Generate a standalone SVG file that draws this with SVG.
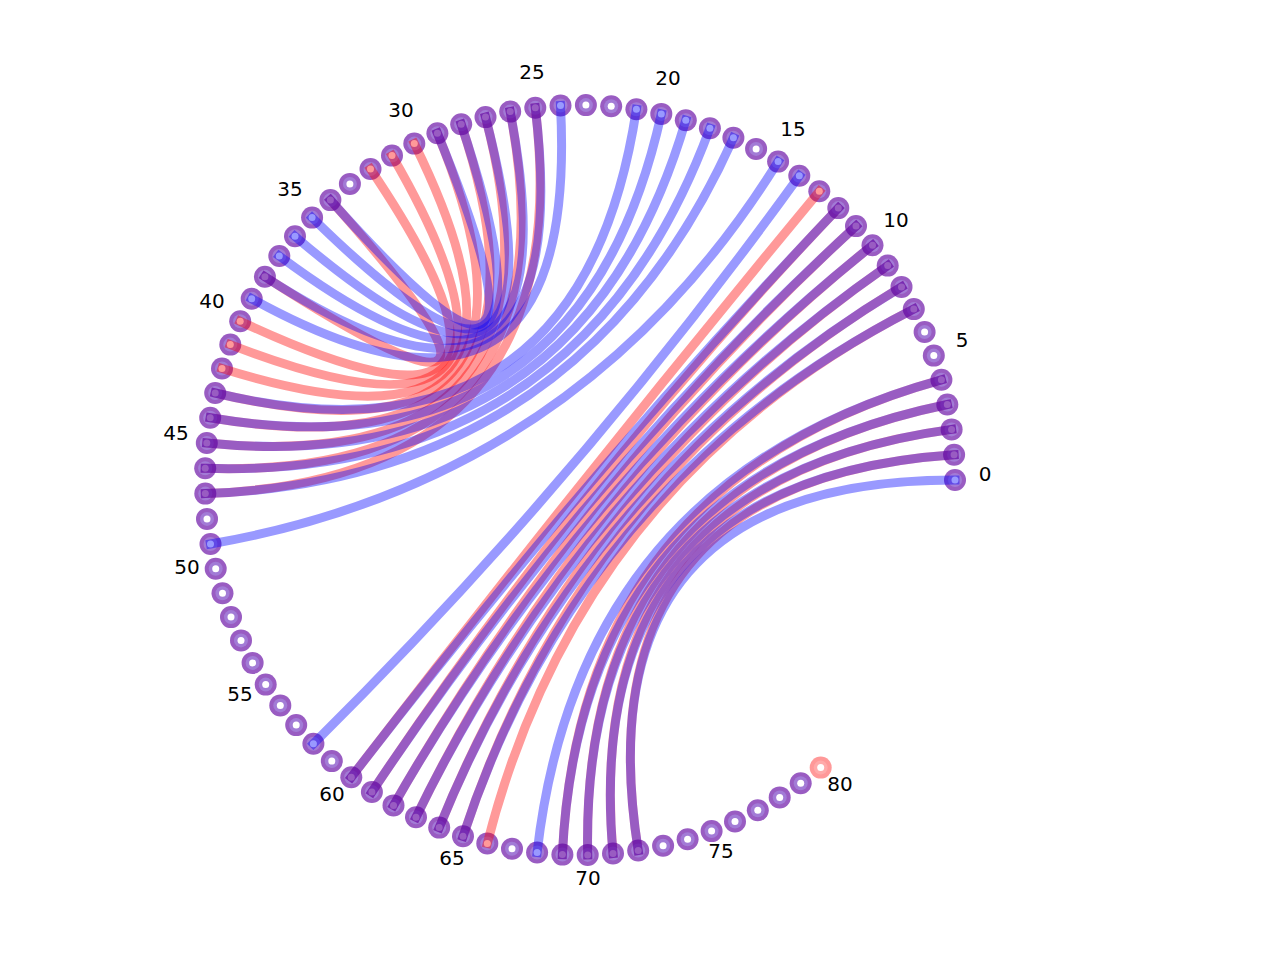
<svg xmlns="http://www.w3.org/2000/svg" width="1280" height="960" viewBox="0 0 1280 960">
<style>
.r{fill:none;stroke:#ff0000;stroke-opacity:.4;stroke-width:9;stroke-linecap:square}
.b{fill:none;stroke:#0000ff;stroke-opacity:.4;stroke-width:9;stroke-linecap:square}
.o{fill:#995cc2}
.i{fill:#a27bd6}
.w{fill:#ffffff}
.po{fill:#ff9999}
.pi{fill:#ffaaaa}
text{font-family:"DejaVu Sans",sans-serif;font-size:20px;text-anchor:middle;fill:#000}
</style>
<defs>
<g id="nd"><circle class="o" r="11"/><circle class="i" r="7"/><circle class="w" r="3.5"/></g>
<g id="ndp"><circle class="po" r="11"/><circle class="pi" r="7"/><circle class="w" r="3.5"/></g>
</defs>
<rect width="1280" height="960" fill="#fff"/>
<g id="nodes">
<g id="n0" transform="translate(955,480)"><use href="#nd"/></g>
<g id="n1" transform="translate(954.1,454.7)"><use href="#nd"/></g>
<g id="n2" transform="translate(951.6,429.4)"><use href="#nd"/></g>
<g id="n3" transform="translate(947.3,404.5)"><use href="#nd"/></g>
<g id="n4" transform="translate(941.4,379.8)"><use href="#nd"/></g>
<g id="n5" transform="translate(933.8,355.6)"><use href="#nd"/></g>
<g id="n6" transform="translate(924.6,332.0)"><use href="#nd"/></g>
<g id="n7" transform="translate(913.8,309.1)"><use href="#nd"/></g>
<g id="n8" transform="translate(901.5,286.9)"><use href="#nd"/></g>
<g id="n9" transform="translate(887.7,265.6)"><use href="#nd"/></g>
<g id="n10" transform="translate(872.5,245.3)"><use href="#nd"/></g>
<g id="n11" transform="translate(856.0,226.1)"><use href="#nd"/></g>
<g id="n12" transform="translate(838.3,208.1)"><use href="#nd"/></g>
<g id="n13" transform="translate(819.3,191.3)"><use href="#nd"/></g>
<g id="n14" transform="translate(799.3,175.8)"><use href="#nd"/></g>
<g id="n15" transform="translate(778.1,161.6)"><use href="#nd"/></g>
<g id="n16" transform="translate(756.1,148.9)"><use href="#nd"/></g>
<g id="n17" transform="translate(733.4,137.8)"><use href="#nd"/></g>
<g id="n18" transform="translate(709.9,128.2)"><use href="#nd"/></g>
<g id="n19" transform="translate(685.8,120.2)"><use href="#nd"/></g>
<g id="n20" transform="translate(661.3,113.9)"><use href="#nd"/></g>
<g id="n21" transform="translate(636.4,109.3)"><use href="#nd"/></g>
<g id="n22" transform="translate(611.2,106.3)"><use href="#nd"/></g>
<g id="n23" transform="translate(585.9,105.1)"><use href="#nd"/></g>
<g id="n24" transform="translate(560.5,105.5)"><use href="#nd"/></g>
<g id="n25" transform="translate(535.3,107.7)"><use href="#nd"/></g>
<g id="n26" transform="translate(510.2,111.6)"><use href="#nd"/></g>
<g id="n27" transform="translate(485.5,117.1)"><use href="#nd"/></g>
<g id="n28" transform="translate(461.2,124.3)"><use href="#nd"/></g>
<g id="n29" transform="translate(437.4,133.2)"><use href="#nd"/></g>
<g id="n30" transform="translate(414.3,143.6)"><use href="#nd"/></g>
<g id="n31" transform="translate(392.0,155.6)"><use href="#nd"/></g>
<g id="n32" transform="translate(370.5,169.0)"><use href="#nd"/></g>
<g id="n33" transform="translate(349.9,183.9)"><use href="#nd"/></g>
<g id="n34" transform="translate(330.4,200.1)"><use href="#nd"/></g>
<g id="n35" transform="translate(312.1,217.6)"><use href="#nd"/></g>
<g id="n36" transform="translate(295.0,236.3)"><use href="#nd"/></g>
<g id="n37" transform="translate(279.3,256.0)"><use href="#nd"/></g>
<g id="n38" transform="translate(264.9,276.7)"><use href="#nd"/></g>
<g id="n39" transform="translate(251.7,298.7)"><use href="#nd"/></g>
<g id="n40" transform="translate(240.2,321.3)"><use href="#nd"/></g>
<g id="n41" transform="translate(230.3,344.6)"><use href="#nd"/></g>
<g id="n42" transform="translate(222.0,368.5)"><use href="#nd"/></g>
<g id="n43" transform="translate(215.2,393.0)"><use href="#nd"/></g>
<g id="n44" transform="translate(210.2,417.8)"><use href="#nd"/></g>
<g id="n45" transform="translate(206.8,443.0)"><use href="#nd"/></g>
<g id="n46" transform="translate(205.2,468.3)"><use href="#nd"/></g>
<g id="n47" transform="translate(205.3,493.6)"><use href="#nd"/></g>
<g id="n48" transform="translate(207.0,518.9)"><use href="#nd"/></g>
<g id="n49" transform="translate(210.5,544.0)"><use href="#nd"/></g>
<g id="n50" transform="translate(215.7,568.8)"><use href="#nd"/></g>
<g id="n51" transform="translate(222.5,593.2)"><use href="#nd"/></g>
<g id="n52" transform="translate(231.0,617.1)"><use href="#nd"/></g>
<g id="n53" transform="translate(241.0,640.4)"><use href="#nd"/></g>
<g id="n54" transform="translate(252.6,662.9)"><use href="#nd"/></g>
<g id="n55" transform="translate(265.7,684.6)"><use href="#nd"/></g>
<g id="n56" transform="translate(280.3,705.4)"><use href="#nd"/></g>
<g id="n57" transform="translate(296.2,725.1)"><use href="#nd"/></g>
<g id="n58" transform="translate(313.4,743.7)"><use href="#nd"/></g>
<g id="n59" transform="translate(331.8,761.1)"><use href="#nd"/></g>
<g id="n60" transform="translate(351.3,777.2)"><use href="#nd"/></g>
<g id="n61" transform="translate(371.9,792.0)"><use href="#nd"/></g>
<g id="n62" transform="translate(393.5,805.4)"><use href="#nd"/></g>
<g id="n63" transform="translate(416.0,817.2)"><use href="#nd"/></g>
<g id="n64" transform="translate(439.2,827.6)"><use href="#nd"/></g>
<g id="n65" transform="translate(463.0,836.3)"><use href="#nd"/></g>
<g id="n66" transform="translate(487.3,843.4)"><use href="#nd"/></g>
<g id="n67" transform="translate(512.0,848.8)"><use href="#nd"/></g>
<g id="n68" transform="translate(537.1,852.5)"><use href="#nd"/></g>
<g id="n69" transform="translate(562.4,854.6)"><use href="#nd"/></g>
<g id="n70" transform="translate(587.7,854.9)"><use href="#nd"/></g>
<g id="n71" transform="translate(613.0,853.5)"><use href="#nd"/></g>
<g id="n72" transform="translate(638.2,850.5)"><use href="#nd"/></g>
<g id="n73" transform="translate(663.1,845.7)"><use href="#nd"/></g>
<g id="n74" transform="translate(687.6,839.2)"><use href="#nd"/></g>
<g id="n75" transform="translate(711.6,831.1)"><use href="#nd"/></g>
<g id="n76" transform="translate(735.0,821.5)"><use href="#nd"/></g>
<g id="n77" transform="translate(757.8,810.2)"><use href="#nd"/></g>
<g id="n78" transform="translate(779.7,797.4)"><use href="#nd"/></g>
<g id="n79" transform="translate(800.7,783.2)"><use href="#nd"/></g>
<g id="n80" transform="translate(820.7,767.6)"><use href="#ndp"/></g>
</g>
<g id="edges">
<path class="r" d="M954.1 454.7Q580 480 638.2 850.5"/>
<path class="r" d="M951.6 429.4Q580 480 613.0 853.5"/>
<path class="r" d="M947.3 404.5Q580 480 587.7 854.9"/>
<path class="r" d="M941.4 379.8Q580 480 562.4 854.6"/>
<path class="r" d="M913.8 309.1Q580 480 487.3 843.4"/>
<path class="r" d="M901.5 286.9Q580 480 463.0 836.3"/>
<path class="r" d="M887.7 265.6Q580 480 439.2 827.6"/>
<path class="r" d="M872.5 245.3Q580 480 416.0 817.2"/>
<path class="r" d="M856.0 226.1Q580 480 393.5 805.4"/>
<path class="r" d="M838.3 208.1Q580 480 371.9 792.0"/>
<path class="r" d="M819.3 191.3Q580 480 351.3 777.2"/>
<path class="r" d="M535.3 107.7Q580 480 205.3 493.6"/>
<path class="r" d="M510.2 111.6Q580 480 205.2 468.3"/>
<path class="r" d="M485.5 117.1Q580 480 206.8 443.0"/>
<path class="r" d="M461.2 124.3Q580 480 210.2 417.8"/>
<path class="r" d="M437.4 133.2Q580 480 215.2 393.0"/>
<path class="r" d="M414.3 143.6Q580 480 222.0 368.5"/>
<path class="r" d="M392.0 155.6Q580 480 230.3 344.6"/>
<path class="r" d="M370.5 169.0Q580 480 240.2 321.3"/>
<path class="r" d="M330.4 200.1Q580 480 264.9 276.7"/>
<path class="b" d="M955 480Q580 480 638.2 850.5"/>
<path class="b" d="M954.1 454.7Q580 480 613.0 853.5"/>
<path class="b" d="M951.6 429.4Q580 480 587.7 854.9"/>
<path class="b" d="M947.3 404.5Q580 480 562.4 854.6"/>
<path class="b" d="M941.4 379.8Q580 480 537.1 852.5"/>
<path class="b" d="M913.8 309.1Q580 480 463.0 836.3"/>
<path class="b" d="M901.5 286.9Q580 480 439.2 827.6"/>
<path class="b" d="M887.7 265.6Q580 480 416.0 817.2"/>
<path class="b" d="M872.5 245.3Q580 480 393.5 805.4"/>
<path class="b" d="M856.0 226.1Q580 480 371.9 792.0"/>
<path class="b" d="M838.3 208.1Q580 480 351.3 777.2"/>
<path class="b" d="M799.3 175.8Q580 480 313.4 743.7"/>
<path class="b" d="M778.1 161.6Q580 480 210.5 544.0"/>
<path class="b" d="M733.4 137.8Q580 480 205.3 493.6"/>
<path class="b" d="M709.9 128.2Q580 480 205.2 468.3"/>
<path class="b" d="M685.8 120.2Q580 480 206.8 443.0"/>
<path class="b" d="M661.3 113.9Q580 480 210.2 417.8"/>
<path class="b" d="M636.4 109.3Q580 480 215.2 393.0"/>
<path class="b" d="M560.5 105.5Q580 480 251.7 298.7"/>
<path class="b" d="M535.3 107.7Q580 480 264.9 276.7"/>
<path class="b" d="M510.2 111.6Q580 480 279.3 256.0"/>
<path class="b" d="M485.5 117.1Q580 480 295.0 236.3"/>
<path class="b" d="M461.2 124.3Q580 480 312.1 217.6"/>
<path class="b" d="M437.4 133.2Q580 480 330.4 200.1"/>
</g>
<g id="labels">
<text x="985" y="480.5">0</text>
<text x="962" y="346.5">5</text>
<text x="896" y="226.5">10</text>
<text x="793" y="136">15</text>
<text x="668" y="84.5">20</text>
<text x="532" y="78.5">25</text>
<text x="401" y="117">30</text>
<text x="290" y="196">35</text>
<text x="212" y="308">40</text>
<text x="176" y="440">45</text>
<text x="187" y="574">50</text>
<text x="240" y="701">55</text>
<text x="332" y="800.5">60</text>
<text x="452" y="864.5">65</text>
<text x="588" y="884.5">70</text>
<text x="721" y="858">75</text>
<text x="840" y="790.5">80</text>
</g>
</svg>
